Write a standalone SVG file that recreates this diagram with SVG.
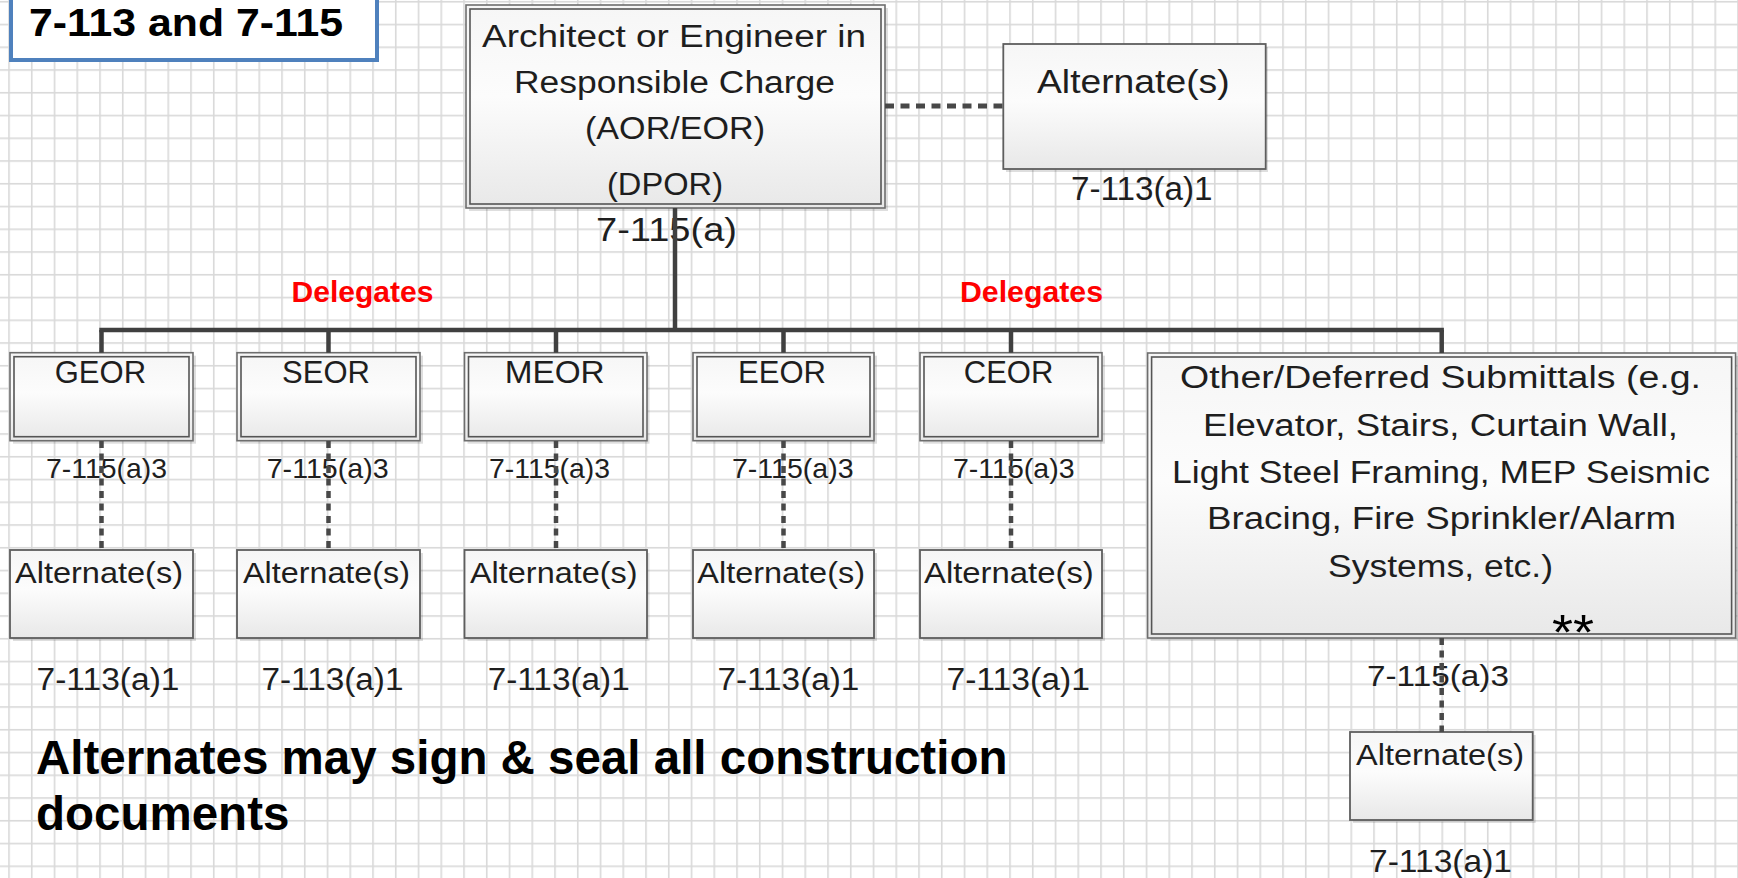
<svg xmlns="http://www.w3.org/2000/svg" width="1738" height="878" viewBox="0 0 1738 878">
<defs>
  <pattern id="grid" patternUnits="userSpaceOnUse" x="8.2" y="0.95" width="22.75" height="22.75">
    <rect x="0" y="0" width="1.6" height="22.75" fill="#d9d9d9"/>
    <rect x="0" y="0" width="22.75" height="1.6" fill="#d9d9d9"/>
  </pattern>
  <linearGradient id="boxfill" x1="0" y1="0" x2="0" y2="1">
    <stop offset="0" stop-color="#f6f6f6"/>
    <stop offset="0.45" stop-color="#fcfcfc"/>
    <stop offset="1" stop-color="#e8e8e8"/>
  </linearGradient>
  <style>
    text { font-family: "Liberation Sans", Arial, sans-serif; fill: #1e1e1e; }
    .shadow { fill: #000; opacity: 0.13; }
    .outer { fill: url(#boxfill); stroke: #6e6e6e; stroke-width: 1.6; }
    .inner { fill: none; stroke: #555; stroke-width: 1.6; }
    .single { fill: url(#boxfill); stroke: #5e5e5e; stroke-width: 1.8; }
    .solid { stroke: #404040; stroke-width: 4.5; fill: none; }
    .dot { stroke: #484848; stroke-width: 4.5; fill: none; stroke-dasharray: 7 5.5; }
    .dot2 { stroke: #484848; stroke-width: 5; fill: none; stroke-dasharray: 9 6.5; }
    .hdr { font-size: 31px; text-anchor: middle; }
    .lbl { font-size: 28px; }
    .alt { font-size: 29px; }
    .ref { font-size: 31px; }
    .big { font-size: 31px; }
    .del { font-size: 30px; font-weight: bold; fill: #ff0000; }
  </style>
</defs>

<rect x="0" y="0" width="1738" height="878" fill="#ffffff"/>
<rect x="0" y="0" width="1738" height="878" fill="url(#grid)"/>

<g id="title">
  <rect x="11" y="-10" width="366" height="70" fill="#ffffff" stroke="#4f81bd" stroke-width="4"/>
  <text x="29" y="36" font-size="39.5" font-weight="bold" textLength="314" lengthAdjust="spacingAndGlyphs" style="fill:#000">7-113 and 7-115</text>
</g>

<g id="aor">
  <rect class="shadow" x="469" y="8" width="419" height="203"/>
  <rect class="outer" x="466" y="5" width="419" height="203"/>
  <rect class="inner" x="470" y="9" width="411" height="195"/>
  <text class="big" x="482" y="47" textLength="384" lengthAdjust="spacingAndGlyphs">Architect or Engineer in</text>
  <text class="big" x="514" y="93" textLength="321" lengthAdjust="spacingAndGlyphs">Responsible Charge</text>
  <text class="big" x="585" y="139" textLength="180" lengthAdjust="spacingAndGlyphs">(AOR/EOR)</text>
  <text class="big" x="607" y="195" textLength="116" lengthAdjust="spacingAndGlyphs">(DPOR)</text>
  <text x="596" y="241" font-size="34" textLength="141" lengthAdjust="spacingAndGlyphs">7-115(a)</text>
</g>

<g id="aor-alternate">
  <rect class="shadow" x="1006" y="47" width="262" height="125"/>
  <rect class="single" x="1003.3" y="44" width="262.4" height="125"/>
  <text x="1037" y="93" font-size="32.5" textLength="192.6" lengthAdjust="spacingAndGlyphs">Alternate(s)</text>
  <text x="1071" y="200" font-size="32.5" textLength="141.6" lengthAdjust="spacingAndGlyphs">7-113(a)1</text>
</g>

<g id="delegates">
  <text class="del" x="291.5" y="301.5" textLength="142" lengthAdjust="spacingAndGlyphs">Delegates</text>
  <text class="del" x="960" y="301.5" textLength="143" lengthAdjust="spacingAndGlyphs">Delegates</text>
</g>

<g id="geor">
  <rect class="shadow" x="13" y="355.7" width="183" height="88"/>
  <rect class="outer" x="10" y="352.7" width="183" height="88"/>
  <rect class="inner" x="14" y="356.7" width="175" height="80"/>
  <text class="hdr" x="100.4" y="383.3">GEOR</text>
  <text class="lbl" x="46" y="478" textLength="121" lengthAdjust="spacingAndGlyphs">7-115(a)3</text>
</g>
<g id="geor-alternate">
  <rect class="shadow" x="13" y="553" width="183" height="88"/>
  <rect class="single" x="10" y="550" width="183" height="88"/>
  <text class="alt" x="15" y="583" textLength="168" lengthAdjust="spacingAndGlyphs">Alternate(s)</text>
  <text class="ref" x="36.5" y="690" textLength="143" lengthAdjust="spacingAndGlyphs">7-113(a)1</text>
</g>

<g id="seor">
  <rect class="shadow" x="240" y="355.7" width="183" height="88"/>
  <rect class="outer" x="237" y="352.7" width="183" height="88"/>
  <rect class="inner" x="241" y="356.7" width="175" height="80"/>
  <text class="hdr" x="326" y="383.3">SEOR</text>
  <text class="lbl" x="266.7" y="478" textLength="122" lengthAdjust="spacingAndGlyphs">7-115(a)3</text>
</g>
<g id="seor-alternate">
  <rect class="shadow" x="240" y="553" width="183" height="88"/>
  <rect class="single" x="237" y="550" width="183" height="88"/>
  <text class="alt" x="243" y="583" textLength="167" lengthAdjust="spacingAndGlyphs">Alternate(s)</text>
  <text class="ref" x="261.5" y="690" textLength="142" lengthAdjust="spacingAndGlyphs">7-113(a)1</text>
</g>

<g id="meor">
  <rect class="shadow" x="467.5" y="355.7" width="182" height="88"/>
  <rect class="outer" x="464.5" y="352.7" width="182.5" height="88"/>
  <rect class="inner" x="468.5" y="356.7" width="174.5" height="80"/>
  <text class="hdr" x="554.7" y="383.3" textLength="100" lengthAdjust="spacingAndGlyphs">MEOR</text>
  <text class="lbl" x="489" y="478" textLength="121" lengthAdjust="spacingAndGlyphs">7-115(a)3</text>
</g>
<g id="meor-alternate">
  <rect class="shadow" x="467.5" y="553" width="182" height="88"/>
  <rect class="single" x="464.5" y="550" width="182.5" height="88"/>
  <text class="alt" x="470" y="583" textLength="167.5" lengthAdjust="spacingAndGlyphs">Alternate(s)</text>
  <text class="ref" x="487.7" y="690" textLength="142" lengthAdjust="spacingAndGlyphs">7-113(a)1</text>
</g>

<g id="eeor">
  <rect class="shadow" x="696" y="355.7" width="181" height="88"/>
  <rect class="outer" x="693" y="352.7" width="181" height="88"/>
  <rect class="inner" x="697" y="356.7" width="173" height="80"/>
  <text class="hdr" x="782" y="383.3">EEOR</text>
  <text class="lbl" x="732" y="478" textLength="121.6" lengthAdjust="spacingAndGlyphs">7-115(a)3</text>
</g>
<g id="eeor-alternate">
  <rect class="shadow" x="696" y="553" width="181" height="88"/>
  <rect class="single" x="693" y="550" width="181" height="88"/>
  <text class="alt" x="697.3" y="583" textLength="167.7" lengthAdjust="spacingAndGlyphs">Alternate(s)</text>
  <text class="ref" x="717.4" y="690" textLength="142" lengthAdjust="spacingAndGlyphs">7-113(a)1</text>
</g>

<g id="ceor">
  <rect class="shadow" x="923" y="355.7" width="182" height="88"/>
  <rect class="outer" x="920" y="352.7" width="182" height="88"/>
  <rect class="inner" x="924" y="356.7" width="174" height="80"/>
  <text class="hdr" x="1008.6" y="383.3">CEOR</text>
  <text class="lbl" x="953" y="478" textLength="121.6" lengthAdjust="spacingAndGlyphs">7-115(a)3</text>
</g>
<g id="ceor-alternate">
  <rect class="shadow" x="923" y="553" width="182" height="88"/>
  <rect class="single" x="920" y="550" width="182" height="88"/>
  <text class="alt" x="924" y="583" textLength="169.8" lengthAdjust="spacingAndGlyphs">Alternate(s)</text>
  <text class="ref" x="946.4" y="690" textLength="143.6" lengthAdjust="spacingAndGlyphs">7-113(a)1</text>
</g>

<g id="other">
  <rect class="shadow" x="1150.6" y="356" width="590" height="285"/>
  <rect class="outer" x="1147.6" y="353" width="588" height="285"/>
  <rect class="inner" x="1151.6" y="357" width="580" height="277"/>
  <text class="big" x="1180" y="388" textLength="521" lengthAdjust="spacingAndGlyphs">Other/Deferred Submittals (e.g.</text>
  <text class="big" x="1203" y="436" textLength="475" lengthAdjust="spacingAndGlyphs">Elevator, Stairs, Curtain Wall,</text>
  <text class="big" x="1172" y="483" textLength="538" lengthAdjust="spacingAndGlyphs">Light Steel Framing, MEP Seismic</text>
  <text class="big" x="1207" y="529" textLength="469" lengthAdjust="spacingAndGlyphs">Bracing, Fire Sprinkler/Alarm</text>
  <text class="big" x="1328" y="577" textLength="225" lengthAdjust="spacingAndGlyphs">Systems, etc.)</text>
  <text x="1552" y="650" font-size="50" textLength="42" lengthAdjust="spacingAndGlyphs" style="fill:#000">**</text>
  <text x="1367" y="686" font-size="30" textLength="142" lengthAdjust="spacingAndGlyphs">7-115(a)3</text>
</g>
<g id="other-alternate">
  <rect class="shadow" x="1353" y="735" width="182.7" height="88"/>
  <rect class="single" x="1350" y="732" width="182.7" height="88"/>
  <text class="alt" x="1356" y="765" textLength="168" lengthAdjust="spacingAndGlyphs">Alternate(s)</text>
  <text x="1369" y="872" font-size="32" textLength="143" lengthAdjust="spacingAndGlyphs">7-113(a)1</text>
</g>

<g id="note">
  <text x="36" y="774" font-size="47.5" font-weight="bold" style="fill:#000">Alternates may sign &amp; seal all construction</text>
  <text x="36" y="830" font-size="47.5" font-weight="bold" style="fill:#000">documents</text>
</g>

<g id="connectors">
  <line class="solid" x1="675" y1="208" x2="675" y2="330"/>
  <line class="solid" x1="99.3" y1="330" x2="1443.9" y2="330"/>
  <line class="solid" x1="101.5" y1="330" x2="101.5" y2="352.7"/>
  <line class="solid" x1="328.5" y1="330" x2="328.5" y2="352.7"/>
  <line class="solid" x1="556" y1="330" x2="556" y2="352.7"/>
  <line class="solid" x1="783.5" y1="330" x2="783.5" y2="352.7"/>
  <line class="solid" x1="1011" y1="330" x2="1011" y2="352.7"/>
  <line class="solid" x1="1441.7" y1="330" x2="1441.7" y2="353"/>
  <line class="dot2" x1="885" y1="106" x2="1003" y2="106"/>
  <line class="dot" x1="101.5" y1="441" x2="101.5" y2="550"/>
  <line class="dot" x1="328.5" y1="441" x2="328.5" y2="550"/>
  <line class="dot" x1="556" y1="441" x2="556" y2="550"/>
  <line class="dot" x1="783.5" y1="441" x2="783.5" y2="550"/>
  <line class="dot" x1="1011" y1="441" x2="1011" y2="550"/>
  <line class="dot" x1="1441.7" y1="638" x2="1441.7" y2="732"/>
</g>
</svg>
